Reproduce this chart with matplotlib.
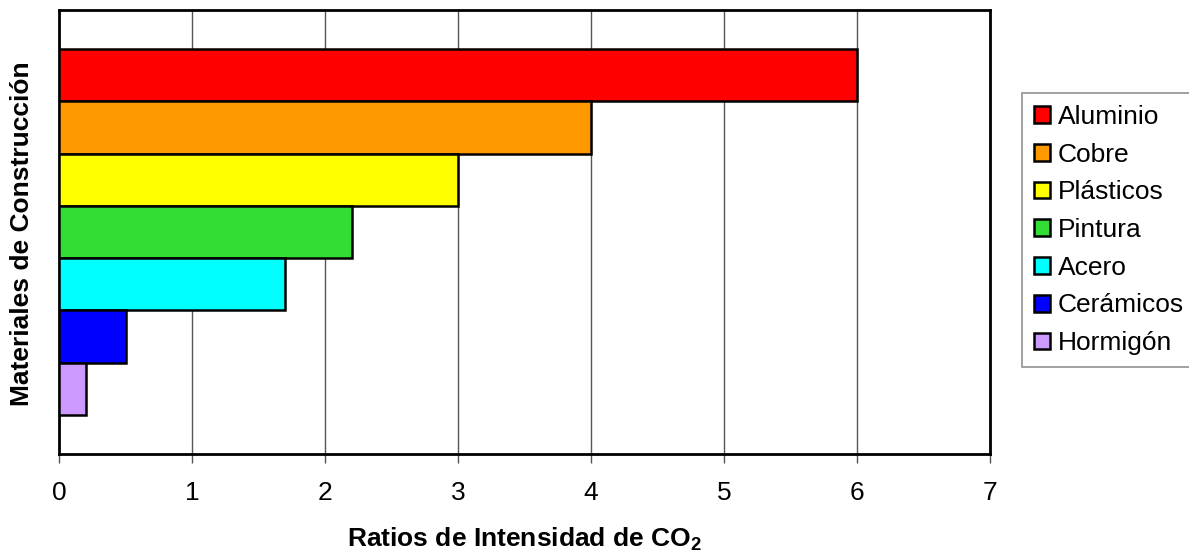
import matplotlib
matplotlib.use("Agg")
import matplotlib.pyplot as plt
from matplotlib.patches import Patch

plt.rcParams['font.family'] = ['Liberation Sans', 'DejaVu Sans']
plt.rcParams['mathtext.fontset'] = 'custom'
plt.rcParams['mathtext.bf'] = 'Liberation Sans:bold'
plt.rcParams['mathtext.rm'] = 'Liberation Sans'

# Data
materiales = ['Aluminio', 'Cobre', 'Plásticos', 'Pintura', 'Acero', 'Cerámicos', 'Hormigón']
ratios = [6.0, 4.0, 3.0, 2.2, 1.7, 0.5, 0.2]
colores = ['#FF0000', '#FF9900', '#FFFF00', '#33DD33', '#00FFFF', '#0000FF', '#CC99FF']
ticks_x = [0, 1, 2, 3, 4, 5, 6, 7]

FS = 19
W, H = 1189, 555
fig = plt.figure(figsize=(W / 100, H / 100), dpi=100)
ax = fig.add_axes([59 / W, 1 - 454 / H, (990 - 59) / W, (454 - 10) / H])

# one category, seven series, gap width 150%
n = len(materiales)
h = 1.0 / (n + 1.5)
for i, (m, v, c) in enumerate(zip(materiales, ratios, colores)):
    y = ((n - 1) / 2 - i) * h
    ax.barh(y, v, height=h, color=c, edgecolor='black', linewidth=1.8, zorder=3)

ax.set_xlim(0, 7)
ax.set_ylim(-0.5, 0.5)
ax.set_xticks(ticks_x)
ax.set_xticklabels([str(t) for t in ticks_x], fontsize=FS)
ax.set_yticks([])
ax.tick_params(axis='x', length=6.5, width=1, color='#555555', pad=13)
ax.grid(axis='x', color='#555555', linewidth=1.0, zorder=0)
for s in ax.spines.values():
    s.set_linewidth(2.0)
    s.set_color('black')

ax.set_xlabel(r'Ratios de Intensidad de CO$_\mathbf{2}$', fontsize=FS,
              fontweight='bold', labelpad=15)
fig.text(22 / W, 1 - 234 / H, 'Materiales de Construcción', rotation=90,
         fontsize=FS, fontweight='bold', ha='center', va='center')

handles = [Patch(facecolor=c, edgecolor='black', linewidth=1.8) for c in colores]
leg = fig.legend(handles, materiales, loc='upper left',
                 bbox_to_anchor=(1022 / W, 1 - 93 / H), fontsize=FS,
                 frameon=True, fancybox=False, handlelength=0.6,
                 handleheight=0.6, handletextpad=0.3, labelspacing=0.52,
                 borderpad=0.45, borderaxespad=0)
leg.get_frame().set_edgecolor('#777777')
leg.get_frame().set_linewidth(1.2)

fig.savefig('out.png', dpi=100)
